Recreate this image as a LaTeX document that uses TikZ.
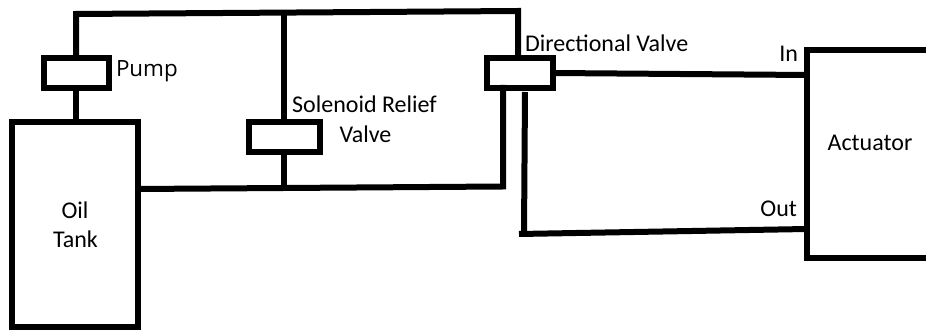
\documentclass[tikz,border=0pt]{standalone}
\usepackage{fontspec}
\setmainfont{Carlito}
\newfontfamily\pumpfont{Open Sans}
\tikzset{
  x=0.75pt,y=-0.75pt,
  pipe/.style={line width=4.5pt,black,line join=miter},
  unitbox/.style={draw=black,line width=4.5pt,fill=white,inner sep=0pt,outer sep=0pt,rectangle},
  txt/.style={inner sep=0pt,outer sep=0pt,font=\fontsize{18pt}{21pt}\selectfont,text=black},
  bigtxt/.style={inner sep=0pt,outer sep=0pt,font=\pumpfont\fontsize{16.8pt}{20pt}\selectfont,text=black}
}
\begin{document}
\begin{tikzpicture}
\useasboundingbox (0,0) rectangle (926,331);
% free corners of the pipework
\coordinate (tl) at (76,14);
\coordinate (tm) at (284,13);
\coordinate (tr) at (518,11);
\coordinate (dvtop) at (518,58);
\coordinate (bm) at (284,187.5);
\coordinate (br) at (503,186.5);
\coordinate (dvret) at (503,85);
\coordinate (dvout) at (525,92);
\coordinate (ol) at (524,234);
\coordinate (ols) at (519,234);
% units
\node[unitbox,minimum width=126*0.75pt,minimum height=205*0.75pt] (tank) at (75,224.5) {};
\node[unitbox,minimum width=65*0.75pt,minimum height=30*0.75pt] (pump) at (76.5,73) {};
\node[unitbox,minimum width=71*0.75pt,minimum height=30*0.75pt] (relief) at (284.5,137) {};
\node[unitbox,minimum width=66*0.75pt,minimum height=30*0.75pt] (dv) at (520,73) {};
% actuator, open at the right edge
\coordinate (acttr) at (926,50);
\coordinate (acttl) at (807,50);
\coordinate (actbl) at (807,258);
\coordinate (actbr) at (926,258);
\coordinate (actin) at (807,75);
\coordinate (actout) at (807,229);
\draw[pipe] (acttr) -- (acttl) -- (actbl) -- (actbr);
% connectors
\draw[pipe] (pump.north -| tl) -- (tl) -- (tr) -- (dvtop);
\draw[pipe] (pump.south -| tl) -- (tank.north -| tl);
\draw[pipe] (tm) -- (relief.north -| tm);
\draw[pipe] (relief.south -| tm) -- (bm);
\draw[pipe] (tank.east |- 0,189) -- (br) -- (dvret);
\draw[pipe] (dv.east) -- (actin);
\draw[pipe] (dvout) -- (ol);
\draw[pipe] (ols) -- (actout);
% labels
\node[bigtxt,anchor=base west] (lpump) at (116,77) {Pump};
\node[txt,anchor=base] (loil) at (75,219) {Oil};
\node[txt,anchor=base] (ltank) at (75.5,248) {Tank};
\node[txt,anchor=base] (lrel1) at (364.5,113) {Solenoid Relief};
\node[txt,anchor=base] (lrel2) at (365.5,143) {Valve};
\node[txt,anchor=base west] (ldv) at (525,52) {Directional Valve};
\node[txt,anchor=base east] (lin) at (798,62) {In};
\node[txt,anchor=base east] (lout) at (797,217) {Out};
\node[txt,anchor=base] (lact) at (870,151) {Actuator};
\end{tikzpicture}
\end{document}
